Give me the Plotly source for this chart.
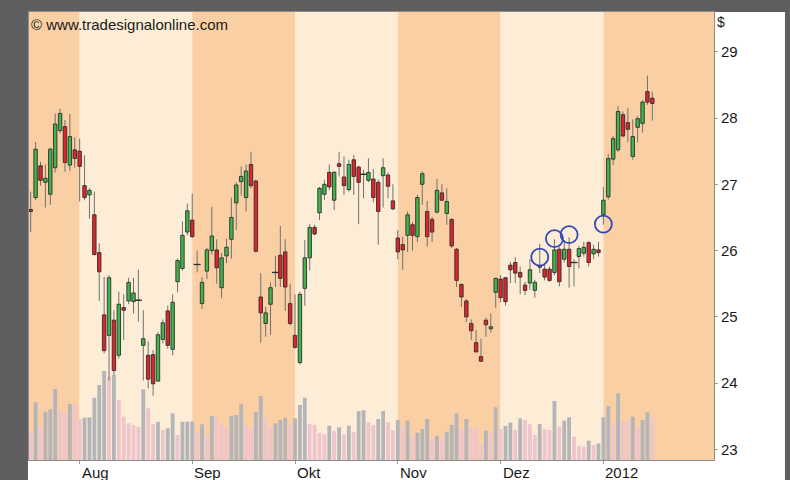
import plotly.graph_objects as go

# Daily OHLC (trading-day index 0..127)
opens = [26.62, 26.80, 27.28, 27.03, 26.85, 27.25, 27.81, 27.87, 27.29, 27.52,
         27.50, 26.98, 26.84, 26.54, 25.97, 25.03, 24.72, 24.95, 24.42, 25.14,
         25.24, 25.23, 25.25, 24.57, 24.42, 24.43, 24.03, 24.66, 25.09, 24.51,
         25.53, 25.73, 26.28, 26.46, 25.79, 25.20, 25.69, 26.00, 26.01, 25.44,
         25.92, 26.17, 26.72, 27.04, 26.80, 27.30, 27.05, 25.30, 24.90, 25.19,
         25.67, 25.93, 25.98, 25.20, 24.72, 24.31, 25.43, 25.89, 26.35, 26.57,
         26.85, 27.18, 26.76, 27.31, 27.11, 26.92, 27.37, 27.26, 27.15, 27.06,
         27.08, 27.03, 27.13, 27.14, 26.75, 26.19, 26.09, 26.23, 26.39, 26.21,
         27.00, 26.59, 26.47, 26.58, 26.87, 26.56, 26.47, 26.02, 25.49, 25.24,
         24.90, 24.61, 24.40, 24.95, 24.82, 25.37, 25.57, 25.59, 25.78, 25.82,
         25.67, 25.48, 25.51, 25.40, 25.77, 25.72, 25.72, 25.67, 26.02, 25.87,
         26.02, 25.82, 25.91, 25.96, 26.12, 25.95, 26.01, 26.54, 26.81, 27.38,
         27.52, 28.05, 27.93, 27.42, 27.86, 27.92, 28.40, 28.30]
highs = [26.89, 27.64, 27.34, 27.30, 27.55, 28.07, 28.14, 27.97, 28.06, 27.71,
         27.69, 27.44, 26.94, 26.89, 26.11, 25.60, 25.63, 25.10, 25.38, 25.34,
         25.59, 25.59, 25.71, 25.10, 24.63, 24.50, 24.77, 24.96, 25.17, 25.34,
         25.88, 26.44, 26.71, 26.86, 26.00, 25.60, 26.04, 26.66, 26.17, 25.96,
         26.18, 26.80, 27.03, 27.27, 27.30, 27.49, 27.07, 25.66, 25.15, 25.52,
         25.92, 26.37, 26.17, 25.50, 25.34, 25.38, 26.16, 26.40, 26.39, 26.96,
         27.07, 27.30, 27.20, 27.49, 27.42, 27.37, 27.44, 27.28, 27.22, 27.39,
         27.23, 27.07, 27.39, 27.18, 27.00, 26.31, 26.21, 26.59, 26.43, 26.84,
         27.20, 26.75, 26.51, 27.08, 27.00, 26.94, 26.49, 26.04, 25.50, 25.27,
         24.96, 24.80, 24.67, 24.99, 25.05, 25.59, 25.63, 25.60, 25.83, 25.90,
         25.76, 25.53, 25.87, 25.56, 26.10, 25.81, 25.76, 26.17, 26.06, 26.16,
         26.20, 25.87, 26.07, 26.13, 26.14, 26.09, 26.13, 26.96, 27.46, 27.73,
         28.18, 28.10, 28.15, 27.98, 28.03, 28.27, 28.64, 28.40]
lows = [26.28, 26.76, 26.98, 26.65, 26.69, 27.18, 27.77, 27.19, 27.20, 27.25,
        26.74, 26.76, 26.48, 25.93, 25.24, 24.45, 24.04, 24.12, 24.37, 24.65,
        25.19, 25.05, 24.93, 24.04, 23.92, 23.81, 24.03, 24.60, 24.52, 24.42,
        25.37, 25.70, 26.23, 26.19, 25.67, 25.12, 25.57, 25.94, 25.50, 25.28,
        25.81, 25.88, 26.31, 26.83, 26.59, 26.94, 25.97, 24.61, 24.70, 24.73,
        25.45, 25.45, 25.09, 24.87, 24.52, 24.28, 25.17, 25.70, 26.23, 26.46,
        26.76, 26.91, 26.61, 27.12, 26.84, 26.89, 26.84, 26.40, 26.79, 27.03,
        26.73, 26.09, 26.65, 26.79, 26.61, 25.87, 25.71, 25.98, 26.00, 26.13,
        26.69, 26.06, 26.13, 26.56, 26.75, 26.39, 26.04, 25.45, 25.15, 24.92,
        24.65, 24.47, 24.32, 24.70, 24.76, 25.14, 25.22, 25.17, 25.51, 25.51,
        25.34, 25.33, 25.41, 25.29, 25.66, 25.55, 25.53, 25.63, 25.46, 25.82,
        25.44, 25.46, 25.73, 25.91, 25.76, 25.87, 25.91, 26.39, 26.77, 27.29,
        27.49, 27.71, 27.64, 27.37, 27.63, 27.78, 28.20, 27.96]
closes = [26.59, 27.53, 27.06, 27.09, 27.53, 27.91, 28.07, 27.33, 27.72, 27.39,
          27.27, 26.80, 26.91, 25.94, 25.68, 24.49, 25.59, 24.19, 25.19, 25.10,
          25.52, 25.36, 25.25, 24.67, 24.06, 23.99, 24.73, 24.91, 24.57, 25.22,
          25.85, 26.23, 26.60, 26.21, 25.79, 25.52, 26.01, 26.22, 25.74, 25.89,
          26.05, 26.50, 26.99, 27.12, 27.20, 26.98, 25.99, 25.06, 25.06, 25.44,
          25.67, 25.58, 25.45, 24.90, 24.54, 25.34, 25.89, 26.35, 26.25, 26.94,
          27.00, 26.96, 27.18, 27.27, 26.98, 27.30, 27.12, 27.03, 27.15, 27.18,
          26.80, 26.59, 27.25, 26.97, 26.63, 25.98, 26.01, 26.54, 26.23, 26.80,
          27.16, 26.21, 26.28, 26.91, 26.76, 26.74, 26.07, 25.55, 25.30, 25.00,
          24.79, 24.47, 24.33, 24.88, 24.85, 25.58, 25.29, 25.23, 25.71, 25.66,
          25.60, 25.40, 25.71, 25.52, 25.75, 25.60, 25.55, 26.01, 25.53, 26.02,
          25.76, 25.82, 26.03, 26.05, 25.82, 26.02, 25.97, 26.76, 27.39, 27.69,
          28.10, 27.73, 27.83, 27.72, 27.99, 28.24, 28.24, 28.22]
# volume in millions of shares
volume = [2.93, 5.77, 3.33, 4.83, 5.07, 7.10, 5.00, 4.67, 5.60, 5.50,
          4.10, 4.23, 4.27, 6.23, 7.50, 8.90, 8.33, 8.50, 6.00, 4.33,
          3.67, 3.50, 3.33, 7.07, 5.17, 3.60, 3.83, 3.00, 3.17, 4.67,
          2.50, 3.83, 3.83, 3.83, 2.83, 3.57, 2.57, 4.40, 4.27, 3.60,
          3.23, 4.40, 4.50, 5.60, 3.50, 3.17, 4.83, 6.40, 4.23, 3.33,
          3.67, 4.00, 4.23, 3.50, 4.17, 5.50, 6.23, 3.57, 3.50, 2.73,
          2.57, 3.43, 2.90, 3.27, 2.57, 3.43, 2.80, 4.90, 4.97, 3.77,
          3.50, 4.10, 4.90, 3.77, 3.00, 4.00, 3.43, 3.93, 2.40, 2.73,
          3.10, 4.10, 2.10, 2.43, 2.07, 2.83, 3.50, 4.67, 3.10, 4.10,
          3.27, 3.23, 1.57, 2.93, 2.73, 5.27, 3.10, 3.40, 3.73, 3.00,
          4.17, 4.00, 3.57, 2.50, 3.60, 3.07, 3.00, 5.90, 3.33, 3.93,
          4.27, 2.33, 1.43, 1.33, 1.93, 1.50, 1.67, 4.27, 5.40, 3.67,
          6.67, 3.93, 3.90, 4.33, 3.33, 4.00, 4.77, 4.33]

# first trading day of each month (index) and its label
month_starts = [10, 33, 54, 75, 96, 117]
month_labels = ['Aug', 'Sep', 'Okt', 'Nov', 'Dez', '2012']

# signal markers
signal_idx = [104, 107, 110, 117]
signal_price = [25.90, 26.18, 26.24, 26.40]

price_ticks = [23, 24, 25, 26, 27, 28, 29]

BAND_DARK = '#FBCFA4'
BAND_LIGHT = '#FDEDD6'
GREEN = '#3FB54A'
RED = '#E3232B'
OUTLINE = '#2E2E2E'
WICK = '#707070'
VOL_GREY = '#B4B5B9'
VOL_PINK = '#EEC5CA'
CIRCLE = '#3349B8'
FONT = 'Arial, Liberation Sans, sans-serif'
PRICE_RANGE = [22.84, 29.6]

idx = list(range(len(closes)))
body_bot = [min(o, c) for o, c in zip(opens, closes)]
body_h = [abs(c - o) for o, c in zip(opens, closes)]
body_col = [GREEN if c > o else RED for o, c in zip(opens, closes)]
doji = [i for i in idx if opens[i] == closes[i]]
vol_colors = [VOL_PINK] + [VOL_GREY if v >= p else VOL_PINK
                           for p, v in zip(volume[:-1], volume[1:])]

# wick segments separated by gaps
wick_x, wick_y = [], []
for i in idx:
    wick_x += [i, i, None]
    wick_y += [lows[i], highs[i], None]

fig = go.Figure()

# volume on the bottom layer
fig.add_trace(go.Bar(
    x=idx, y=volume, width=0.78, yaxis='y',
    marker=dict(color=vol_colors, line_width=0),
    hoverinfo='skip'
))

# wicks in the middle layer
fig.add_trace(go.Scatter(
    x=wick_x, y=wick_y, mode='lines', yaxis='y2',
    line=dict(color=WICK, width=1), hoverinfo='skip'
))

# bodies on top
fig.add_trace(go.Bar(
    x=idx, y=body_h, base=body_bot, width=0.7, yaxis='y3',
    marker=dict(color=body_col, line=dict(color=OUTLINE, width=0.9)),
    hoverinfo='skip'
))
fig.add_trace(go.Scatter(
    x=doji, y=[opens[i] for i in doji], mode='markers', yaxis='y3',
    marker=dict(symbol='line-ew', size=5, color=OUTLINE,
                line=dict(color=OUTLINE, width=1.3)),
    hoverinfo='skip'
))

fig.add_trace(go.Scatter(
    x=signal_idx, y=signal_price, mode='markers', yaxis='y3',
    marker=dict(symbol='circle-open', size=17, color=CIRCLE,
                line=dict(width=1.8, color=CIRCLE)),
    hoverinfo='skip'
))

# white page behind the chart, then month bands
shapes = [dict(type='rect', xref='paper', yref='paper', x0=-0.0015, x1=1.1036,
               y0=-0.08, y1=1.0, fillcolor='white', line_width=0, layer='below')]
edges = [-5] + month_starts + [160]
for k in range(len(edges) - 1):
    shapes.append(dict(
        type='rect', xref='x', yref='paper', x0=edges[k], x1=edges[k + 1],
        y0=0, y1=1, fillcolor=BAND_DARK if k % 2 == 0 else BAND_LIGHT,
        line_width=0, layer='below'
    ))

annotations = [
    dict(text='© www.tradesignalonline.com', xref='paper', yref='paper',
         x=0, y=1, xanchor='left', yanchor='top', xshift=0, yshift=-2,
         showarrow=False, font=dict(size=15, color='#1a1a1a', family=FONT)),
    dict(text='$', xref='paper', yref='paper', x=1, y=1, xanchor='left',
         yanchor='top', xshift=1, yshift=0, showarrow=False,
         font=dict(size=14, color='#1a1a1a', family=FONT)),
]
for pos, lab in zip(month_starts, month_labels):
    annotations.append(dict(
        text=lab, xref='x', yref='paper', x=pos, y=0, xanchor='left',
        yanchor='top', xshift=0, yshift=-2, showarrow=False,
        font=dict(size=15, color='#1a1a1a', family=FONT)
    ))

fig.update_layout(
    width=790, height=480,
    margin=dict(l=29, r=76, t=12, b=20),
    paper_bgcolor='#5E5E60',
    plot_bgcolor='rgba(0,0,0,0)',
    showlegend=False,
    barmode='overlay',
    shapes=shapes,
    annotations=annotations,
    font=dict(family=FONT, color='#1a1a1a'),
    xaxis=dict(
        range=[-0.35, 139.6],
        tickvals=month_starts, ticktext=[''] * len(month_starts),
        ticks='outside', ticklen=3, tickcolor='#999999',
        showgrid=False, zeroline=False,
        showline=True, linecolor='#8C8C8C', linewidth=1, mirror=True
    ),
    yaxis=dict(
        range=[0, 44.8], showticklabels=False, ticks='',
        showgrid=False, zeroline=False,
        showline=True, linecolor='#8C8C8C', linewidth=1, mirror=True
    ),
    yaxis2=dict(overlaying='y', range=PRICE_RANGE, visible=False),
    yaxis3=dict(
        overlaying='y', side='right', range=PRICE_RANGE,
        tickvals=price_ticks, ticks='outside', ticklen=3, tickcolor='#999999',
        tickfont=dict(size=15, color='#1a1a1a', family=FONT),
        showgrid=False, zeroline=False, showline=False
    ),
)

fig.write_html("out.html",
               config={'displayModeBar': False},
               post_script="document.body.style.margin='0';"
                           "document.body.style.overflow='hidden';")
